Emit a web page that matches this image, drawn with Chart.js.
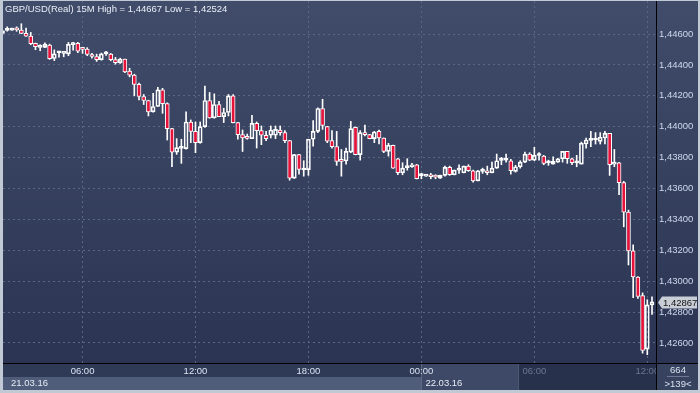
<!DOCTYPE html>
<html>
<head>
<meta charset="utf-8">
<script src="https://cdn.jsdelivr.net/npm/chart.js@4.4.0/dist/chart.umd.min.js"></script>
<style>
html,body{margin:0;padding:0;background:#c1c9d4;overflow:hidden;}
</style>
</head>
<body>
<canvas id="myChart" width="700" height="393"></canvas>
<script>
"use strict";

//region Data
const chartTitle = "GBP/USD(Real) 15M High = 1,44667 Low = 1,42524";
// one candle every 15 min, index 0 = 21.03.16 01:45
const openPrices = [1.44605,1.44624,1.44626,1.44629,1.44626,1.44605,1.44587,1.44540,1.44514,1.44514,
    1.44529,1.44442,1.44479,1.44475,1.44472,1.44532,1.44540,1.44505,1.44503,1.44467,
    1.44455,1.44435,1.44472,1.44471,1.44435,1.44415,1.44438,1.44360,1.44334,1.44274,
    1.44196,1.44170,1.44096,1.44131,1.44239,1.44150,1.43988,1.43836,1.43860,1.43858,
    1.44031,1.43970,1.43897,1.44001,1.44170,1.44057,1.44144,1.44066,1.44092,1.44200,
    1.44027,1.43949,1.43927,1.43923,1.44022,1.43975,1.43945,1.43945,1.43945,1.43979,
    1.43962,1.43910,1.43667,1.43819,1.43720,1.43722,1.43919,1.43970,1.44118,1.44001,
    1.43910,1.43871,1.43778,1.43778,1.43836,1.43996,1.43819,1.43962,1.43949,1.43923,
    1.43970,1.43927,1.43841,1.43880,1.43793,1.43702,1.43735,1.43741,1.43754,1.43684,
    1.43680,1.43689,1.43676,1.43667,1.43685,1.43737,1.43689,1.43719,1.43702,1.43745,
    1.43715,1.43650,1.43711,1.43715,1.43702,1.43732,1.43782,1.43783,1.43780,1.43711,
    1.43741,1.43771,1.43823,1.43784,1.43814,1.43810,1.43766,1.43758,1.43771,1.43793,
    1.43841,1.43793,1.43766,1.43758,1.43888,1.43912,1.43914,1.43905,1.43927,1.43957,
    1.43758,1.43767,1.43638,1.43447,1.43196,1.43027,1.42906,1.42560,1.42846];
const highPrices = [1.44624,1.44647,1.44639,1.44647,1.44667,1.44639,1.44611,1.44542,1.44531,1.44544,
    1.44535,1.44498,1.44488,1.44479,1.44546,1.44546,1.44546,1.44506,1.44512,1.44475,
    1.44470,1.44477,1.44488,1.44475,1.44449,1.44444,1.44439,1.44379,1.44340,1.44282,
    1.44209,1.44172,1.44217,1.44256,1.44249,1.44155,1.43990,1.43923,1.43919,1.44096,
    1.44044,1.44031,1.44031,1.44264,1.44222,1.44213,1.44165,1.44120,1.44209,1.44209,
    1.44029,1.43979,1.43953,1.44074,1.44031,1.44005,1.43970,1.44005,1.44005,1.44005,
    1.43975,1.43912,1.43821,1.43821,1.43780,1.43919,1.44040,1.44122,1.44178,1.44003,
    1.43975,1.43970,1.43853,1.43862,1.44035,1.43999,1.43975,1.44010,1.43951,1.43970,
    1.43979,1.43928,1.43893,1.43881,1.43795,1.43767,1.43793,1.43763,1.43756,1.43698,
    1.43691,1.43698,1.43689,1.43687,1.43745,1.43745,1.43720,1.43754,1.43746,1.43754,
    1.43719,1.43717,1.43732,1.43745,1.43771,1.43823,1.43802,1.43823,1.43789,1.43750,
    1.43780,1.43836,1.43832,1.43867,1.43832,1.43815,1.43784,1.43806,1.43795,1.43841,
    1.43841,1.43797,1.43815,1.43901,1.43927,1.43970,1.43962,1.43962,1.43970,1.43957,
    1.43853,1.43769,1.43646,1.43460,1.43235,1.43029,1.42924,1.42880,1.42898];
const lowPrices = [1.44603,1.44619,1.44623,1.44618,1.44603,1.44585,1.44531,1.44499,1.44492,1.44512,
    1.44436,1.44428,1.44451,1.44453,1.44460,1.44496,1.44480,1.44475,1.44460,1.44444,
    1.44423,1.44431,1.44462,1.44427,1.44405,1.44410,1.44350,1.44323,1.44200,1.44174,
    1.44144,1.44070,1.44094,1.44130,1.44087,1.43914,1.43741,1.43821,1.43763,1.43854,
    1.43897,1.43832,1.43893,1.43996,1.44055,1.44055,1.44065,1.44027,1.44070,1.44024,
    1.43919,1.43840,1.43919,1.43922,1.43862,1.43884,1.43910,1.43927,1.43923,1.43945,
    1.43897,1.43654,1.43665,1.43693,1.43680,1.43685,1.43875,1.43962,1.43983,1.43897,
    1.43862,1.43750,1.43680,1.43758,1.43832,1.43818,1.43784,1.43940,1.43922,1.43897,
    1.43888,1.43832,1.43810,1.43730,1.43689,1.43689,1.43719,1.43737,1.43662,1.43663,
    1.43678,1.43663,1.43663,1.43665,1.43680,1.43685,1.43688,1.43698,1.43701,1.43711,
    1.43641,1.43649,1.43698,1.43689,1.43701,1.43730,1.43754,1.43771,1.43693,1.43706,
    1.43732,1.43767,1.43780,1.43780,1.43784,1.43754,1.43750,1.43757,1.43769,1.43771,
    1.43763,1.43754,1.43741,1.43758,1.43862,1.43871,1.43888,1.43888,1.43888,1.43685,
    1.43741,1.43560,1.43352,1.43105,1.42893,1.42889,1.42534,1.42524,1.42785];
const closePrices = [1.44621,1.44628,1.44632,1.44627,1.44605,1.44587,1.44538,1.44519,1.44520,1.44533,
    1.44441,1.44472,1.44481,1.44477,1.44533,1.44540,1.44490,1.44501,1.44468,1.44455,
    1.44435,1.44472,1.44475,1.44435,1.44415,1.44438,1.44355,1.44334,1.44274,1.44196,
    1.44170,1.44096,1.44131,1.44239,1.44150,1.43988,1.43836,1.43865,1.43865,1.44031,
    1.43970,1.43897,1.44001,1.44170,1.44057,1.44144,1.44066,1.44092,1.44200,1.44027,
    1.43949,1.43927,1.43925,1.44022,1.43975,1.43945,1.43923,1.43979,1.43983,1.43962,
    1.43910,1.43667,1.43819,1.43724,1.43724,1.43919,1.43970,1.44118,1.44009,1.43906,
    1.43871,1.43776,1.43776,1.43841,1.43988,1.43819,1.43962,1.43949,1.43923,1.43966,
    1.43927,1.43841,1.43880,1.43732,1.43702,1.43732,1.43737,1.43754,1.43663,1.43685,
    1.43689,1.43676,1.43674,1.43685,1.43737,1.43689,1.43719,1.43720,1.43745,1.43715,
    1.43650,1.43715,1.43714,1.43702,1.43732,1.43780,1.43784,1.43784,1.43715,1.43741,
    1.43771,1.43823,1.43784,1.43815,1.43815,1.43763,1.43767,1.43776,1.43793,1.43841,
    1.43793,1.43767,1.43767,1.43893,1.43914,1.43915,1.43915,1.43932,1.43957,1.43754,
    1.43767,1.43638,1.43447,1.43196,1.43027,1.42901,1.42551,1.42846,1.42867];
const yTickValues = [1.426,1.428,1.430,1.432,1.434,1.436,1.438,1.440,1.442,1.444,1.446];
const xTickValues = [17,41,65,89,113,137];
const xTickLabels = ["06:00","12:00","18:00","00:00","06:00","12:00"];
const dateLabels = ["21.03.16","22.03.16"];
const dateStarts = [0,89];
const shadeStart = 109.7;
const barCount = "664";
const visibleCount = ">139<";
//endregion

//region Setup
const xMin = 0.1, xMax = 138.85;
const yMin = 1.424701, yMax = 1.448143;
const fontName = "'Liberation Sans', Arial, sans-serif";

let bodies = [], upperWicks = [], lowerWicks = [], bodyColors = [];
for (let i = 0; i < openPrices.length; i++) {
    let o = openPrices[i], c = closePrices[i];
    bodies.push({x: i, y: [o, c]});
    upperWicks.push({x: i, y: [Math.max(o, c), highPrices[i]]});
    lowerWicks.push({x: i, y: [lowPrices[i], Math.min(o, c)]});
    bodyColors.push(c < o ? "#e5123c" : "rgba(0,0,0,0)");
}

function noPadding(s) {
    s.paddingTop = 0;
    s.paddingBottom = 0;
    s.paddingLeft = 0;
    s.paddingRight = 0;
}

let backdrop = {
    id: "backdrop",
    beforeDraw(chart) {
        let ctx = chart.ctx;
        let a = chart.chartArea;
        let xs = chart.scales.x;
        ctx.save();
        ctx.fillStyle = "#c1c9d4";
        ctx.fillRect(0, 0, 700, 393);
        let g = ctx.createLinearGradient(0, 0, 0, a.bottom);
        g.addColorStop(0, "#404c69");
        g.addColorStop(1, "#2b3553");
        ctx.fillStyle = g;
        ctx.fillRect(3, 1, 695, a.bottom);
        // time row + date row
        let split = xs.getPixelForValue(dateStarts[1]);
        let shade = xs.getPixelForValue(shadeStart);
        ctx.fillStyle = "#2f3a57";
        ctx.fillRect(3, a.bottom, split - 3, 14);
        ctx.fillStyle = "#4f5c7a";
        ctx.fillRect(3, a.bottom + 14, split - 3, 13);
        ctx.fillStyle = "#3d4966";
        ctx.fillRect(split, a.bottom, shade - split, 27);
        ctx.fillStyle = "#27314b";
        ctx.fillRect(shade, a.bottom, a.right - shade, 27);
        ctx.restore();
    },
    afterDraw(chart) {
        let ctx = chart.ctx;
        let a = chart.chartArea;
        let xs = chart.scales.x, ys = chart.scales.y;
        ctx.save();
        // bottom right box
        ctx.fillStyle = "#36425e";
        ctx.fillRect(a.right, a.bottom, 700 - a.right, 27);
        ctx.fillStyle = "#000000";
        ctx.fillRect(a.right, 0, 1, a.bottom + 27);
        ctx.fillRect(a.right, a.bottom, 700 - a.right, 1);
        ctx.font = "9.5px " + fontName;
        ctx.textBaseline = "middle";
        ctx.textAlign = "center";
        ctx.fillStyle = "#d8e2f0";
        ctx.fillText(barCount, 678, a.bottom + 7);
        ctx.fillText(visibleCount, 678, a.bottom + 21);
        ctx.fillStyle = "#6c7893";
        ctx.fillRect(667, a.bottom + 13, 22, 1);
        // date labels
        ctx.textAlign = "left";
        ctx.fillStyle = "#e6ecf6";
        for (let k = 0; k < dateLabels.length; k++) {
            let px = Math.max(xs.getPixelForValue(dateStarts[k]), 7);
            ctx.fillText(dateLabels[k], px + 4, a.bottom + 20);
        }
        // title
        ctx.fillStyle = "#e8eef7";
        ctx.fillText(chartTitle, 5, 9);
        // last price tag
        let last = closePrices[closePrices.length - 1];
        let py = Math.round(ys.getPixelForValue(last)) + 0.5;
        ctx.fillStyle = "#c9ced6";
        ctx.beginPath();
        ctx.moveTo(a.right + 2, py);
        ctx.lineTo(a.right + 6, py - 6);
        ctx.lineTo(697, py - 6);
        ctx.lineTo(697, py + 6);
        ctx.lineTo(a.right + 6, py + 6);
        ctx.closePath();
        ctx.fill();
        ctx.fillStyle = "#111111";
        ctx.fillText(last.toFixed(5).replace(".", ","), a.right + 7, py + 0.5);
        // frame
        ctx.fillStyle = "#c1c9d4";
        ctx.fillRect(0, 0, 3, 393);
        ctx.fillRect(0, 390, 700, 3);
        ctx.fillRect(698, 0, 2, 393);
        ctx.fillRect(0, 0, 700, 1);
        ctx.restore();
    }
};
//endregion

//region Main
new Chart(document.getElementById("myChart"), {
    type: "bar",
    data: {
        datasets: [
            {data: bodies, backgroundColor: bodyColors, borderColor: "#ffffff", borderWidth: 1,
                borderSkipped: false, barThickness: 4, minBarLength: 2, grouped: false},
            {data: upperWicks, backgroundColor: "#ffffff", borderWidth: 0, barThickness: 1, grouped: false},
            {data: lowerWicks, backgroundColor: "#ffffff", borderWidth: 0, barThickness: 1, grouped: false}
        ]
    },
    options: {
        responsive: false,
        animation: false,
        devicePixelRatio: 1,
        layout: {padding: {left: 3, top: 1, right: 0, bottom: 0}},
        plugins: {legend: {display: false}, tooltip: {enabled: false}},
        scales: {
            x: {
                type: "linear", min: xMin, max: xMax, offset: false,
                afterFit: function (s) { s.height = 30; noPadding(s); },
                afterBuildTicks: function (s) { s.ticks = xTickValues.map(v => ({value: v})); },
                ticks: {
                    callback: (v, i) => xTickLabels[i],
                    color: c => (c.tick && c.tick.value > shadeStart) ? "#6a7690" : "#dbe4f2",
                    font: {family: fontName, size: 9.5},
                    padding: 3, maxRotation: 0, autoSkip: false
                },
                grid: {color: "#5a6784", drawTicks: false, offset: false},
                border: {color: "#000000", width: 1, dash: [2, 3]}
            },
            y: {
                position: "right", min: yMin, max: yMax,
                afterFit: function (s) { s.width = 44; noPadding(s); },
                afterBuildTicks: function (s) { s.ticks = yTickValues.map(v => ({value: v})); },
                ticks: {
                    callback: v => v.toFixed(5).replace(".", ","),
                    color: "#cdd9ee",
                    font: {family: fontName, size: 9.5},
                    padding: 3
                },
                grid: {color: "#5a6784", drawTicks: false},
                border: {color: "#000000", width: 1, dash: [2, 3]}
            }
        }
    },
    plugins: [backdrop]
});
//endregion
</script>
</body>
</html>
